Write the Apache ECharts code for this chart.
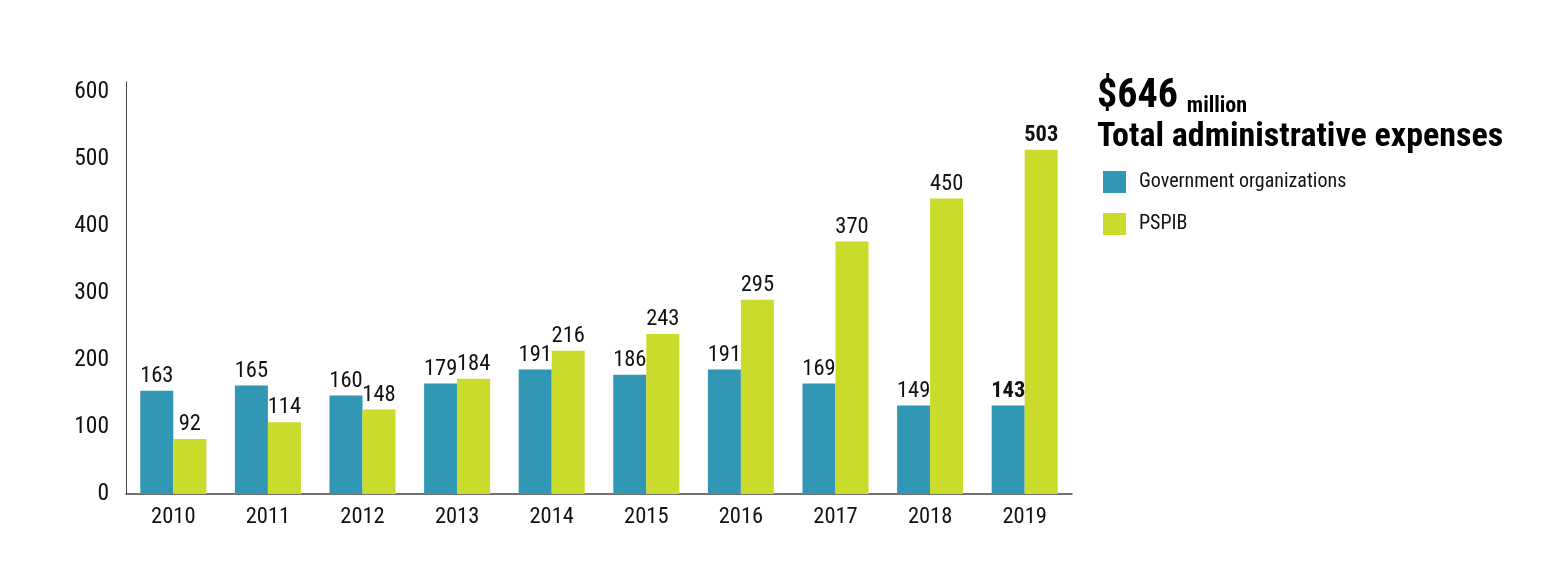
<!DOCTYPE html>
<html>
<head>
<meta charset="utf-8">
<script src="https://cdn.jsdelivr.net/npm/echarts@6/dist/echarts.min.js"></script>
<style>
html,body{margin:0;padding:0;background:#fff;}
#c{width:1545px;height:571px;}
</style>
</head>
<body>
<div id="c"></div>
<script>
const years = ['2010','2011','2012','2013','2014','2015','2016','2017','2018','2019'];
// bar heights as drawn in the picture
const govBars = [154,162,147,165,186,178,186,165,132,132];
const pspibBars = [82,107,126,172,214,239,290,377,441,514];
// printed value labels
const govLabels = [163,165,160,179,191,186,191,169,149,143];
const pspibLabels = [92,114,148,184,216,243,295,370,450,503];
const yTicks = [0,100,200,300,400,500,600];
const seriesNames = ['Government organizations','PSPIB'];
const headline = '$646';
const headlineUnit = 'million';
const subtitle = 'Total administrative expenses';

const FONT = '"Roboto Condensed","Open Sans Condensed",sans-serif';
const GOV = '#3297b5';
const PSP = '#cadb2b';
const last = years.length - 1;

function labelFor(arr){
  return {
    show: true,
    position: 'top',
    distance: 3,
    fontFamily: FONT,
    fontSize: 22.5,
    color: '#111',
    formatter: p => p.dataIndex === last ? '{b|' + arr[p.dataIndex] + '}' : String(arr[p.dataIndex]),
    rich: { b: { fontFamily: FONT, fontSize: 22.5, fontWeight: 'bold', color: '#111' } }
  };
}

const chart = echarts.init(document.getElementById('c'), null, {renderer:'canvas'});
chart.setOption({
  animation: false,
  backgroundColor: '#fff',
  grid: { left: 126, right: 1545 - 1072, top: 82, bottom: 77, containLabel: false },
  xAxis: {
    type: 'category',
    data: years,
    axisLine: { show: true, lineStyle: { color: '#444', width: 1.5 } },
    axisTick: { show: false },
    axisLabel: { fontFamily: FONT, fontSize: 22.5, color: '#111', margin: 12 }
  },
  yAxis: {
    type: 'value',
    min: 0, max: 615, interval: 100,
    splitLine: { show: false },
    axisLine: { show: true, lineStyle: { color: '#444', width: 1 } },
    axisTick: { show: false },
    axisLabel: {
      fontFamily: FONT, fontSize: 23.5, color: '#111', margin: 17,
      showMaxLabel: false,
      formatter: v => yTicks.indexOf(v) >= 0 ? String(v) : ''
    }
  },
  legend: {
    orient: 'vertical',
    left: 1098, top: 166,
    itemWidth: 23, itemHeight: 22, itemGap: 20,
    icon: 'rect',
    data: seriesNames,
    textStyle: { fontFamily: FONT, fontSize: 20, lineHeight: 22, color: '#111', padding: [0,0,0,8] }
  },
  graphic: [
    {
      type: 'text', left: 1097, top: 77,
      style: {
        text: '{a|' + headline + '}{s| }{u|' + headlineUnit + '}',
        rich: {
          a: { fontFamily: FONT, fontSize: 40, fontWeight: 'bold', fill: '#000', verticalAlign: 'bottom', lineHeight: 40 },
          s: { fontFamily: FONT, fontSize: 22, width: 9, verticalAlign: 'bottom', lineHeight: 33 },
          u: { fontFamily: FONT, fontSize: 22, fontWeight: 'bold', fill: '#000', verticalAlign: 'bottom', lineHeight: 33 }
        }
      }
    },
    {
      type: 'text', left: 1097, top: 120,
      style: { text: subtitle, fontFamily: FONT, fontSize: 34, fontWeight: 'bold', fill: '#000' }
    }
  ],
  series: [
    {
      name: seriesNames[0], type: 'bar', data: govBars,
      barWidth: 33, barGap: '0%',
      itemStyle: { color: GOV },
      label: labelFor(govLabels)
    },
    {
      name: seriesNames[1], type: 'bar', data: pspibBars,
      barWidth: 33, barGap: '0%',
      itemStyle: { color: PSP },
      label: labelFor(pspibLabels)
    }
  ]
});
</script>
</body>
</html>
